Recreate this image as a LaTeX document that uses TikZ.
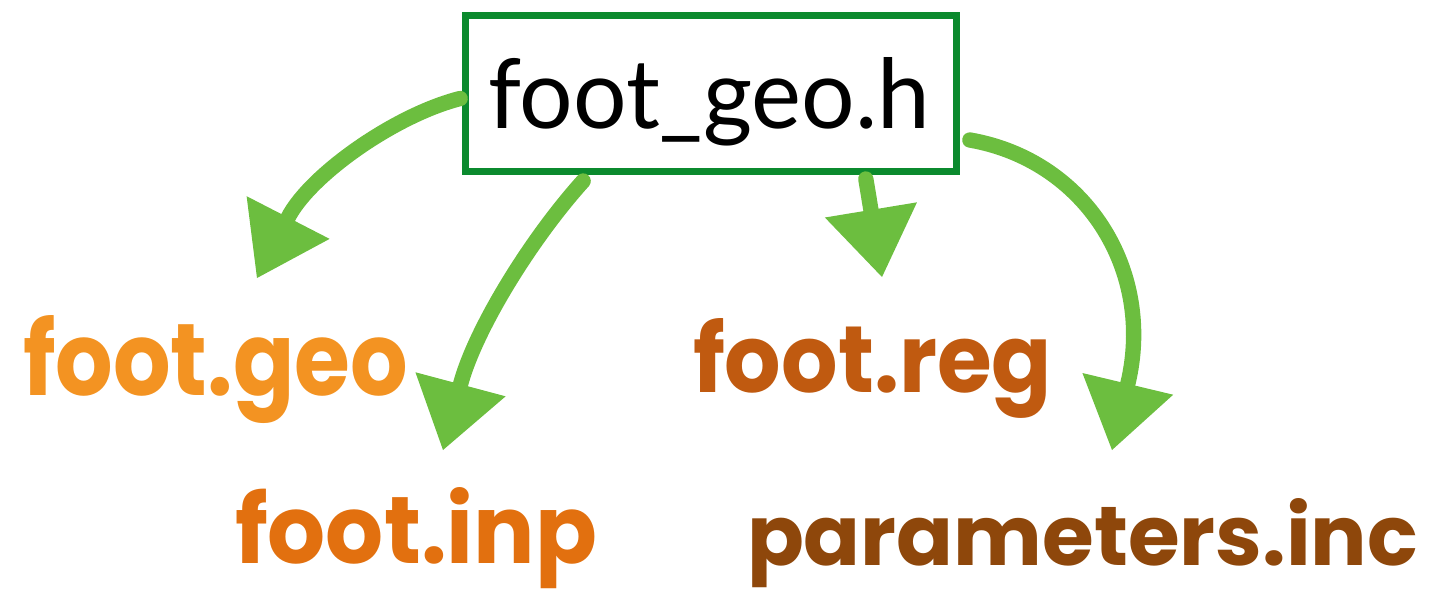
\documentclass[tikz,border=0pt]{standalone}
\usepackage{fontspec}
\setmainfont{Lato}
\newfontfamily\handfont{Poppins}
\usetikzlibrary{arrows.meta}
\definecolor{boxgreen}{RGB}{11,138,46}
\definecolor{arrgreen}{RGB}{108,190,63}
\definecolor{cgeo}{RGB}{243,147,34}
\definecolor{creg}{RGB}{192,90,16}
\definecolor{cinp}{RGB}{226,112,15}
\definecolor{cpar}{RGB}{142,71,11}
\tikzset{
  hbox/.style={draw=boxgreen, line width=5.25pt, minimum width=368pt, minimum height=117pt, inner sep=0pt},
  lbl/.style={anchor=base west, inner sep=0pt, outer sep=0pt},
  arr/.style={draw=arrgreen, line width=11.5pt, line cap=round, line join=round,
    -{Triangle[length=51pt,width=70pt,line width=0pt]}},
}
\begin{document}
\begin{tikzpicture}[x=0.75pt,y=-0.75pt]
\useasboundingbox (0,0) rectangle (1430,607);
\node[hbox] (hb) at (711,93.5) {};
\node[lbl] (ht) at (488,128) {\resizebox{331.5pt}{53.25pt}{foot\_geo.h}};
\node[lbl, text=cgeo] (lgeo) at (23,395) {\resizebox{288.75pt}{60pt}{\handfont\bfseries foot.geo}};
\node[lbl, text=creg] (lreg) at (693,392) {\resizebox{269.25pt}{55.5pt}{\handfont\bfseries foot.reg}};
\node[lbl, text=cinp] (linp) at (235,563) {\resizebox{271.5pt}{57pt}{\handfont\bfseries foot.inp}};
\node[lbl, text=cpar] (lpar) at (747,565) {\resizebox{503.25pt}{50.25pt}{\handfont\bfseries parameters.inc}};
\coordinate (t1) at (257,278);
\coordinate (t2) at (443,450);
\coordinate (t3) at (882,277);
\coordinate (t4) at (1112,450);
\draw[arr] ([shift={(-2,5)}]hb.west) .. controls (395,115) and (310,175) .. (t1);
\draw[arr] ([shift={(121,6)}]hb.south west) .. controls (530,240) and (475,330) .. (t2);
\draw[arr] ([shift={(-94,4)}]hb.south east) -- (t3);
\draw[arr] ([shift={(10,-35)}]hb.south east) .. controls (1085,160) and (1155,270) .. (t4);
\end{tikzpicture}
\end{document}
